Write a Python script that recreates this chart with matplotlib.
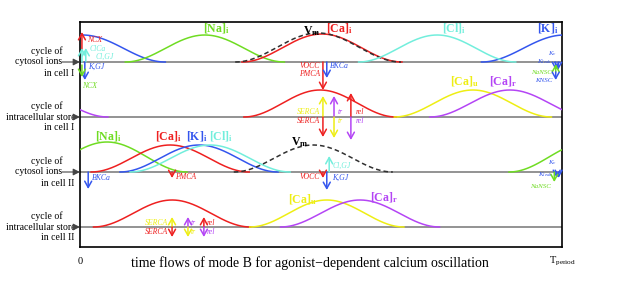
import matplotlib as mpl
mpl.use('Agg')
import matplotlib.pyplot as plt
import numpy as np

plt.rcParams['font.family'] = 'Liberation Serif'
plt.rcParams['mathtext.fontset'] = 'custom'
plt.rcParams['mathtext.rm'] = 'Liberation Serif'
plt.rcParams['mathtext.it'] = 'Liberation Serif:italic'
plt.rcParams['mathtext.bf'] = 'Liberation Serif:bold'

# ---- data (time as fraction of T_period) ----
track_base = [185, 130, 75, 20]   # cytosol I, store I, cytosol II, store II
track_text = [['cycle of', 'cytosol ions', 'in cell I'],
              ['cycle of', 'intracellular store', 'in cell I'],
              ['cycle of', 'cytosol ions', 'in cell II'],
              ['cycle of', 'intracellular store', 'in cell II']]

bump_track = [0, 0, 0, 0, 0, 1, 1, 1, 2, 2, 2, 2, 2, 3, 3, 3]
bump_species = ['K', 'Na', 'Ca', 'Vm', 'Cl', 'Ca', 'Cau', 'Car',
                'Na', 'Ca', 'K', 'Cl', 'Vm', 'Ca', 'Cau', 'Car']
bump_peak = [0.005, 0.259, 0.502, 0.494, 0.741, 0.498, 0.815, 0.892,
             0.056, 0.187, 0.247, 0.270, 0.484, 0.191, 0.512, 0.581]
bump_width = [0.172, 0.165, 0.166, 0.172, 0.163, 0.158, 0.163, 0.166,
              0.166, 0.164, 0.164, 0.166, 0.165, 0.163, 0.160, 0.165]
bump_height = [27, 27, 28, 29, 27, 27, 27, 27, 30, 27, 27, 27, 27, 27, 27, 27]

label_track = [0, 0, 0, 0, 0, 1, 1, 2, 2, 2, 2, 2, 3, 3]
label_species = ['Na', 'Vm', 'Ca', 'Cl', 'K', 'Cau', 'Car',
                 'Na', 'Ca', 'K', 'Cl', 'Vm', 'Cau', 'Car']
label_text = [r'$\mathbf{[Na]_i}$', r'$\mathbf{V_m}$', r'$\mathbf{[Ca]_i}$',
              r'$\mathbf{[Cl]_i}$', r'$\mathbf{[K]_i}$', r'$\mathbf{[Ca]_u}$',
              r'$\mathbf{[Ca]_r}$', r'$\mathbf{[Na]_i}$', r'$\mathbf{[Ca]_i}$',
              r'$\mathbf{[K]_i}$', r'$\mathbf{[Cl]_i}$', r'$\mathbf{V_m}$',
              r'$\mathbf{[Ca]_u}$', r'$\mathbf{[Ca]_r}$']
label_t = [0.282, 0.480, 0.537, 0.776, 0.971, 0.797, 0.878,
           0.058, 0.183, 0.241, 0.293, 0.455, 0.462, 0.631]
label_off = [33, 31, 33, 33, 33, 35, 35, 35, 35, 35, 35, 30, 27, 29]

# flux arrows: track, time, from, to (offset from baseline), species
arrow_track = [0, 0, 0, 0, 0, 0, 0, 0, 0, 0, 0,
               1, 1, 1, 1, 1, 1,
               2, 2, 2, 2, 2, 2, 2, 2,
               3, 3, 3, 3, 3, 3]
arrow_t = [0.004, 0.004, 0.012, 0.010, 0.004, 0.504, 0.512, 0.992, 0.987, 0.987, 0.987,
           0.504, 0.504, 0.527, 0.527, 0.562, 0.562,
           0.017, 0.191, 0.504, 0.517, 0.512, 0.989, 0.993, 0.984,
           0.191, 0.191, 0.224, 0.224, 0.257, 0.257]
arrow_from = [12, 0, 0, 0, -3, 0, 0, 0, 0, -10, -10,
              0, 0, 0, 0, 0, 0,
              0, 0, 0, 0, 0, 0, 0, 0,
              0, 0, 0, 0, 0, 0]
arrow_to = [30, 14, 14, -18, -15, -28, -16, -8, -8, -2, -18,
            21, -20, 21, -21, 24, -23,
            -17, -6, -6, 16, -18, -6, -6, -10,
            10, -10, 10, -10, 10, -10]
arrow_species = ['Ca', 'Cl', 'Cl', 'K', 'Na', 'Ca', 'K', 'K', 'K', 'Na', 'K',
                 'Cau', 'Ca', 'Car', 'Cau', 'Ca', 'Car',
                 'K', 'Ca', 'Ca', 'Cl', 'K', 'K', 'K', 'Na',
                 'Cau', 'Ca', 'Car', 'Cau', 'Ca', 'Car']

# flux names: track, time, offset, text, species, alignment
flux_track = [0] * 12 + [1] * 6 + [2] * 8 + [3] * 6
flux_t = [0.015, 0.019, 0.033, 0.017, 0.004, 0.498, 0.498, 0.519, 0.990, 0.980, 0.980, 0.980,
          0.498, 0.498, 0.535, 0.535, 0.573, 0.573,
          0.025, 0.197, 0.498, 0.523, 0.523, 0.990, 0.982, 0.978,
          0.183, 0.183, 0.230, 0.230, 0.263, 0.263]
flux_off = [22, 13, 5, -5, -24, -4, -12, -4, 8, 0, -11, -19,
            5, -4, 5, -4, 5, -4,
            -6, -5, -5, 6, -6, 9, -3, -15,
            4, -5, 4, -5, 4, -5]
flux_text = ['NCX', 'ClCa', 'Cl,GJ', 'K,GJ', 'NCX', 'VOCC', 'PMCA', 'BKCa',
             r'$K_v$', r'$K_{leak}$', 'NaNSC', 'KNSC',
             'SERCA', 'SERCA', 'tr', 'tr', 'rel', 'rel',
             'BKCa', 'PMCA', 'VOCC', 'Cl,GJ', 'K,GJ', r'$K_v$', r'$K_{leak}$', 'NaNSC',
             'SERCA', 'SERCA', 'tr', 'tr', 'rel', 'rel']
flux_species = ['Ca', 'Cl', 'Cl', 'K', 'Na', 'Ca', 'Ca', 'K', 'K', 'K', 'Na', 'K',
                'Cau', 'Ca', 'Car', 'Cau', 'Ca', 'Car',
                'K', 'Ca', 'Ca', 'Cl', 'K', 'K', 'K', 'Na',
                'Cau', 'Ca', 'Car', 'Cau', 'Ca', 'Car']
flux_ha = ['left', 'left', 'left', 'left', 'left', 'right', 'right', 'left',
           'right', 'right', 'right', 'right',
           'right', 'right', 'left', 'left', 'left', 'left',
           'left', 'left', 'right', 'left', 'left', 'right', 'right', 'right',
           'right', 'right', 'left', 'left', 'left', 'left']

colors = {'K': '#3456ee', 'Na': '#6fdc22', 'Ca': '#ee2020', 'Cl': '#72eedc',
          'Cau': '#eeee14', 'Car': '#b445f5', 'Vm': '#303030'}

fig = plt.figure(figsize=(6.21, 2.86), dpi=100)
ax = fig.add_axes([80 / 621, 39 / 286, 482 / 621, 225 / 286])
ax.set_xlim(0, 1)
ax.set_ylim(0, 225)
ax.set_xticks([])
ax.set_yticks([])
for s in ax.spines.values():
    s.set_linewidth(1.2)

for b in track_base:
    ax.plot([0, 1], [b, b], color='#8a8a8a', lw=1.3, zorder=1)

# periodic bumps
for tr, sp, c, w, h in zip(bump_track, bump_species, bump_peak, bump_width, bump_height):
    for shift in (-1, 0, 1):
        t = np.linspace(c - w, c + w, 200) + shift
        keep = (t >= 0) & (t <= 1)
        if not keep.any():
            continue
        y = h * (1 + np.cos(np.pi * (t - c - shift) / w)) / 2
        ls = '--' if sp == 'Vm' else '-'
        ax.plot(t[keep], track_base[tr] + y[keep], color=colors[sp], lw=1.1,
                ls=ls, dashes=(3, 2) if sp == 'Vm' else (None, None), zorder=3)

for tr, sp, txt, t, off in zip(label_track, label_species, label_text, label_t, label_off):
    ax.text(t, track_base[tr] + off, txt, color=colors[sp] if sp != 'Vm' else 'black',
            fontsize=8.5, ha='center', va='center', zorder=5)

for tr, t, a, b, sp in zip(arrow_track, arrow_t, arrow_from, arrow_to, arrow_species):
    ax.annotate('', xy=(t, track_base[tr] + b), xytext=(t, track_base[tr] + a),
                arrowprops=dict(arrowstyle='->,head_length=0.45,head_width=0.25',
                                color=colors[sp], lw=1.1, shrinkA=0, shrinkB=0),
                zorder=4)

for tr, t, off, txt, sp, ha in zip(flux_track, flux_t, flux_off, flux_text, flux_species, flux_ha):
    small = txt.startswith('$') or txt.endswith('NSC')
    ax.text(t, track_base[tr] + off, txt, color=colors[sp], fontsize=5.0 if small else 5.6,
            fontstyle='italic', ha=ha, va='center', zorder=5)

# row captions on the left
arrow_start = [-0.037, -0.008, -0.037, -0.008]
text_edge = [-0.038, -0.010, -0.038, -0.010]
for b, lines, a0, e in zip(track_base, track_text, arrow_start, text_edge):
    ax.text(-0.036, b + 10.5, lines[0], ha='right', va='center', fontsize=7, clip_on=False)
    ax.text(e, b, lines[1], ha='right', va='center', fontsize=7, clip_on=False)
    ax.text(-0.012, b - 11, lines[2], ha='right', va='center', fontsize=7, clip_on=False)
    ax.annotate('', xy=(0, b), xytext=(a0, b), annotation_clip=False,
                arrowprops=dict(arrowstyle='-|>,head_length=0.4,head_width=0.2',
                                color='#444444', lw=0.8, shrinkA=0, shrinkB=0))

ax.text(0, -14, '0', ha='center', va='center', fontsize=7.5, clip_on=False)
ax.text(1.0, -14, r'T$_{\rm period}$', ha='center', va='center', fontsize=7.5, clip_on=False)
ax.text(0.478, -16, 'time flows of mode B for agonist\u2212dependent calcium oscillation',
        ha='center', va='center', fontsize=10, clip_on=False)

fig.savefig('out.png', dpi=100)
